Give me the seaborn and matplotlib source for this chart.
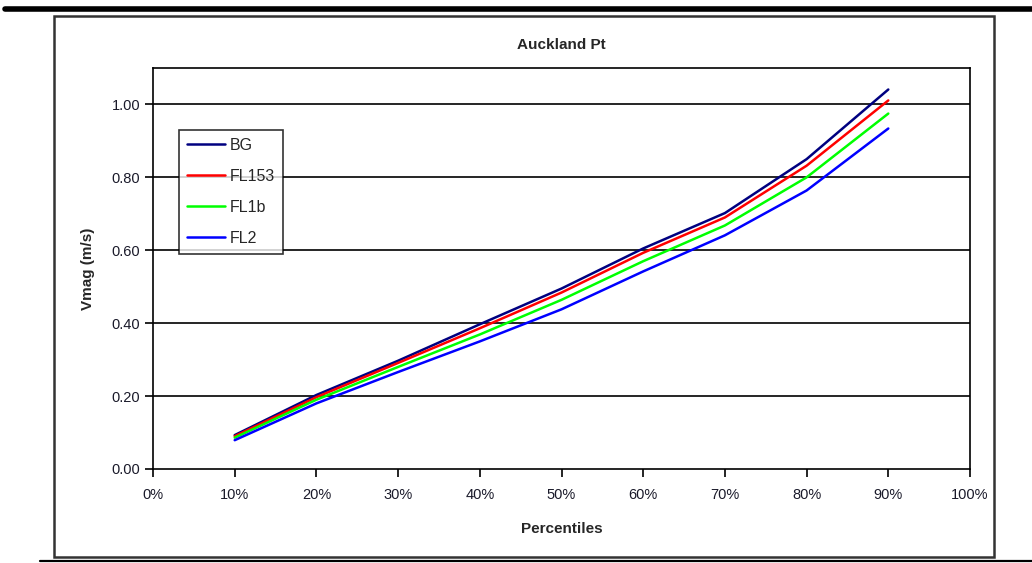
import matplotlib
matplotlib.use("Agg")
import matplotlib.pyplot as plt
from matplotlib.patches import Rectangle
from matplotlib.lines import Line2D
import pandas as pd
import seaborn as sns

# Velocity magnitude percentiles at Auckland Pt for each scenario
percentiles = [10, 20, 30, 40, 50, 60, 70, 80, 90]
bg = [0.093, 0.203, 0.297, 0.397, 0.495, 0.605, 0.702, 0.850, 1.041]
fl153 = [0.090, 0.197, 0.291, 0.386, 0.484, 0.593, 0.690, 0.832, 1.011]
fl1b = [0.086, 0.190, 0.280, 0.369, 0.464, 0.570, 0.668, 0.800, 0.975]
fl2 = [0.079, 0.180, 0.266, 0.350, 0.438, 0.542, 0.641, 0.764, 0.934]
series_names = ["BG", "FL153", "FL1b", "FL2"]
x_tick_labels = ["0%", "10%", "20%", "30%", "40%", "50%", "60%", "70%", "80%", "90%", "100%"]
y_ticks = [0.0, 0.2, 0.4, 0.6, 0.8, 1.0]

df = pd.concat(
    [pd.DataFrame({"Percentile": percentiles, "Vmag": vals, "Series": name})
     for name, vals in zip(series_names, [bg, fl153, fl1b, fl2])],
    ignore_index=True,
)

sns.set_style("white")
plt.rcParams["font.family"] = ["Liberation Sans", "DejaVu Sans"]

fig = plt.figure(figsize=(10.32, 5.63), dpi=100)
W, H = 1032, 563
# axes placed in pixel terms: x 153..970, y 68..469
ax = fig.add_axes([153 / W, 1 - 469 / H, (970 - 153) / W, (469 - 68) / H])

palette = {"BG": "#000080", "FL153": "#FF0000", "FL1b": "#00FF00", "FL2": "#0000FF"}
sns.lineplot(data=df, x="Percentile", y="Vmag", hue="Series", palette=palette,
             linewidth=1.8, ax=ax, legend=False, estimator=None)

ax.set_xlim(0, 100)
ax.set_ylim(0, 1.1)
ax.set_xticks(range(0, 101, 10))
ax.set_xticklabels(x_tick_labels)
ax.set_yticks(y_ticks)
ax.set_yticklabels([f"{v:.2f}" for v in y_ticks])
for v in y_ticks[1:]:
    ax.axhline(v, color="black", linewidth=1.2, zorder=0.5)

for s in ax.spines.values():
    s.set_color("black")
    s.set_linewidth(1.2)
ax.tick_params(axis="both", direction="out", length=6, width=1.2, color="black",
               labelsize=10.5, labelcolor="#1a1a2a", pad=3, bottom=True, left=True)
ax.tick_params(axis="x", pad=8)

ax.set_title("Auckland Pt", fontsize=11, fontweight="bold", pad=14)
ax.set_xlabel("Percentiles", fontsize=11, fontweight="bold", labelpad=14)
ax.set_ylabel("Vmag (m/s)", fontsize=11, fontweight="bold", labelpad=12)

handles = [Line2D([], [], color=palette[n], linewidth=1.8) for n in series_names]
leg = ax.legend(handles, series_names, loc="upper left",
                bbox_to_anchor=((179 - 153) / 817, (469 - 130) / 401),
                frameon=True, fancybox=False, shadow=False, fontsize=11.5,
                handlelength=2.4, handletextpad=0.3, borderpad=0.5, labelspacing=1.0,
                borderaxespad=0)
leg.get_frame().set_edgecolor("black")
leg.get_frame().set_linewidth(1.2)

# outer chart frame and page rules
fig.patches.append(Rectangle((54 / W, 1 - 557 / H), (994 - 54) / W, (557 - 16) / H,
                             transform=fig.transFigure, fill=False,
                             edgecolor="#333333", linewidth=1.8))
fig.add_artist(Line2D([5 / W, 1], [1 - 8.5 / H, 1 - 8.5 / H], color="black",
                      linewidth=4, transform=fig.transFigure))
fig.add_artist(Line2D([40 / W, 1], [1 - 561 / H, 1 - 561 / H], color="black",
                      linewidth=1.6, transform=fig.transFigure))

fig.savefig("out.png", dpi=100)
